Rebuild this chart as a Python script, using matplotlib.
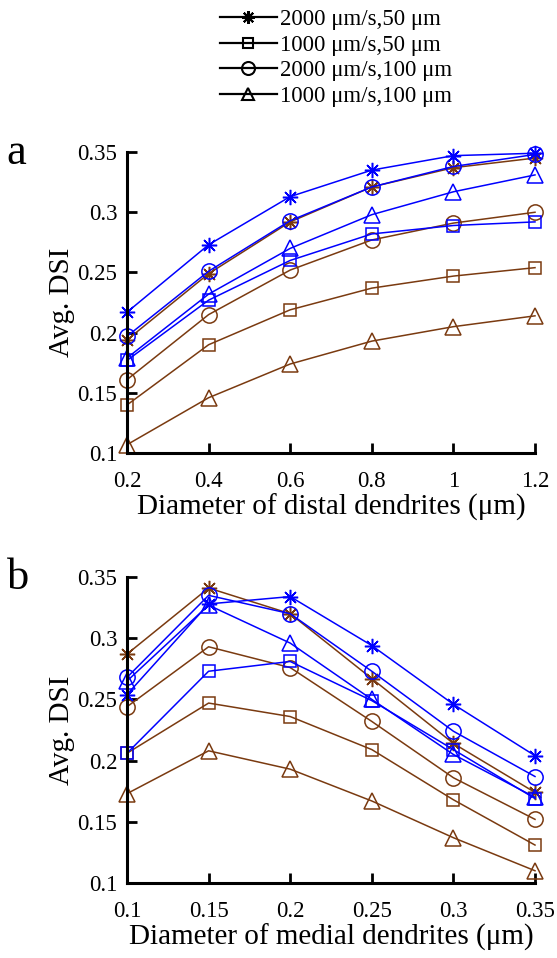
import matplotlib
matplotlib.use("Agg")
import matplotlib.pyplot as plt
from matplotlib.lines import Line2D

plt.rcParams['font.family'] = ['Liberation Serif', 'DejaVu Serif']

# panel a: distal dendrite diameter
distal_x = [0.2, 0.4, 0.6, 0.8, 1.0, 1.2]
a_blue_star = [0.217, 0.273, 0.313, 0.335, 0.347, 0.349]
a_blue_square = [0.177, 0.227, 0.260, 0.282, 0.289, 0.292]
a_blue_circle = [0.197, 0.251, 0.293, 0.321, 0.338, 0.348]
a_blue_triangle = [0.179, 0.232, 0.270, 0.298, 0.317, 0.331]
a_brown_star = [0.194, 0.249, 0.292, 0.321, 0.337, 0.345]
a_brown_square = [0.140, 0.190, 0.219, 0.237, 0.247, 0.254]
a_brown_circle = [0.161, 0.215, 0.252, 0.277, 0.291, 0.300]
a_brown_triangle = [0.107, 0.146, 0.174, 0.193, 0.205, 0.214]

# panel b: medial dendrite diameter
medial_x = [0.1, 0.15, 0.2, 0.25, 0.3, 0.35]
b_blue_star = [0.254, 0.328, 0.334, 0.294, 0.246, 0.204]
b_blue_square = [0.206, 0.273, 0.281, 0.249, 0.209, 0.169]
b_blue_circle = [0.268, 0.335, 0.320, 0.273, 0.224, 0.187]
b_blue_triangle = [0.265, 0.327, 0.296, 0.250, 0.205, 0.170]
b_brown_star = [0.287, 0.341, 0.320, 0.267, 0.214, 0.174]
b_brown_square = [0.206, 0.247, 0.236, 0.209, 0.168, 0.131]
b_brown_circle = [0.244, 0.293, 0.276, 0.232, 0.186, 0.152]
b_brown_triangle = [0.173, 0.208, 0.193, 0.167, 0.137, 0.110]

legend_labels = ['2000 \u03bcm/s,50 \u03bcm', '1000 \u03bcm/s,50 \u03bcm',
                 '2000 \u03bcm/s,100 \u03bcm', '1000 \u03bcm/s,100 \u03bcm']
# matlab style asterisk: 8 armed
markers = [(8, 2, 0), 's', 'o', '^']
marker_sizes = [11, 8, 11, 11]

BLUE = '#0000ff'
BROWN = '#7a3a10'

fig = plt.figure(figsize=(5.57, 9.58), dpi=100)
ax_a = fig.add_axes([0.228, 0.527, 0.7325, 0.3143])
ax_b = fig.add_axes([0.228, 0.0783, 0.7325, 0.3194])


def draw_panel(ax, x, blue, brown, xticks, xlabels, xlabel):
    # brown lines first, blue on top
    for ys, m, ms in zip(brown, markers, marker_sizes):
        ax.plot(x, ys, color=BROWN, marker=m, ms=ms, mfc='none', mew=1.1,
                lw=1.1, clip_on=False)
    for ys, m, ms in zip(blue, markers, marker_sizes):
        ax.plot(x, ys, color=BLUE, marker=m, ms=ms, mfc='none', mew=1.1,
                lw=1.1, clip_on=False)
    ax.set_xlim(x[0], x[-1])
    ax.set_ylim(0.1, 0.35)
    ax.set_xticks(xticks)
    ax.set_xticklabels(xlabels)
    ax.set_yticks([0.1, 0.15, 0.2, 0.25, 0.3, 0.35])
    ax.set_yticklabels(['0.1', '0.15', '0.2', '0.25', '0.3', '0.35'])
    ax.spines['top'].set_visible(False)
    ax.spines['right'].set_visible(False)
    ax.spines['left'].set_linewidth(2.2)
    ax.spines['bottom'].set_linewidth(2.2)
    ax.tick_params(direction='in', length=7, width=2, labelsize=16.5)
    ax.tick_params(axis='x', pad=13)
    ax.tick_params(axis='y', pad=7)
    ax.set_xlabel(xlabel, fontsize=21, labelpad=1)
    ax.set_ylabel('Avg. DSI', fontsize=21, labelpad=2)


draw_panel(ax_a, distal_x,
           [a_blue_star, a_blue_square, a_blue_circle, a_blue_triangle],
           [a_brown_star, a_brown_square, a_brown_circle, a_brown_triangle],
           distal_x, ['0.2', '0.4', '0.6', '0.8', '1', '1.2'],
           'Diameter of distal dendrites (\u03bcm)')
draw_panel(ax_b, medial_x,
           [b_blue_star, b_blue_square, b_blue_circle, b_blue_triangle],
           [b_brown_star, b_brown_square, b_brown_circle, b_brown_triangle],
           medial_x, ['0.1', '0.15', '0.2', '0.25', '0.3', '0.35'],
           'Diameter of medial dendrites (\u03bcm)')

fig.text(0.012, 0.84, 'a', fontsize=32, va='center')
fig.text(0.012, 0.397, 'b', fontsize=32, va='center')

handles = [Line2D([], [], color='black', marker=m, ms=ms * 0.85, mfc='none',
                  mew=1.5, lw=1.6)
           for m, ms in zip(markers, marker_sizes)]
fig.legend(handles, legend_labels, loc='upper left',
           bbox_to_anchor=(0.378, 1.0), frameon=False, fontsize=16.5,
           handlelength=2.5, handletextpad=0.15, labelspacing=0.2,
           borderaxespad=0)

fig.savefig('out.png', dpi=100)
